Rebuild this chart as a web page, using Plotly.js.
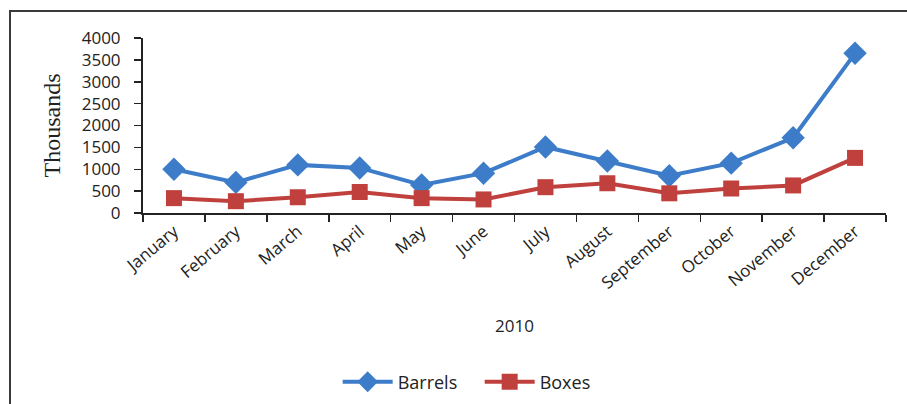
<!DOCTYPE html>
<html>
<head>
<meta charset="utf-8">
<script src="https://cdn.plot.ly/plotly-3.0.1.min.js"></script>
<style>
html,body{margin:0;padding:0;background:#fff;}
#frame{position:absolute;left:9px;top:10px;width:1000px;height:500px;border-top:2px solid #3a3a3a;border-left:2px solid #3a3a3a;}
#chart{position:absolute;left:0;top:0;width:907px;height:404px;}
</style>
</head>
<body>
<div id="frame"></div>
<div id="chart"></div>
<script>
const months = ["January","February","March","April","May","June","July","August","September","October","November","December"];
const barrels = [1000, 700, 1100, 1030, 640, 910, 1510, 1190, 850, 1140, 1720, 3650];
const boxes = [340, 270, 360, 480, 340, 310, 590, 680, 450, 560, 630, 1260];
const yTicks = [0, 500, 1000, 1500, 2000, 2500, 3000, 3500, 4000];

const traces = [
  {x: months, y: barrels, name: "Barrels", type: "scatter", mode: "lines+markers",
   line: {color: "#3d7cc9", width: 4}, marker: {symbol: "diamond", size: 18, color: "#3d7cc9"}},
  {x: months, y: boxes, name: "Boxes", type: "scatter", mode: "lines+markers",
   line: {color: "#c0403d", width: 4}, marker: {symbol: "square", size: 16, color: "#c0403d"}}
];

const layout = {
  width: 907, height: 404,
  margin: {l: 143, r: 21, t: 38, b: 191, autoexpand: false},
  paper_bgcolor: "rgba(0,0,0,0)", plot_bgcolor: "rgba(0,0,0,0)",
  showlegend: true,
  legend: {orientation: "h", x: 0.262, xanchor: "left", y: -0.966, yanchor: "middle",
           itemwidth: 50, entrywidth: 77, entrywidthmode: "pixels",
           font: {family: "Open Sans, sans-serif", size: 18, color: "#222"}},
  xaxis: {
    type: "category", showline: true, linecolor: "#222", linewidth: 2,
    ticks: "outside", ticklen: 7, tickwidth: 1.5, tickcolor: "#222", tickson: "boundaries",
    tickangle: -40, showgrid: false, zeroline: false, automargin: false,
    tickfont: {family: "Open Sans, sans-serif", size: 17, color: "#222"},
    title: {text: "2010", font: {family: "Open Sans, sans-serif", size: 17, color: "#222"}, standoff: 28},
    range: [-0.5, 11.5]
  },
  yaxis: {
    range: [0, 4000], tickvals: yTicks, ticktext: yTicks.map(String),
    showline: true, linecolor: "#222", linewidth: 2, automargin: false,
    ticks: "outside", ticklen: 7, tickwidth: 1.5, tickcolor: "#222",
    ticklabelstandoff: 10,
    showgrid: false, zeroline: false,
    tickfont: {family: "Open Sans, sans-serif", size: 17, color: "#222"},
    title: {text: "Thousands", font: {family: "Liberation Serif, Times New Roman, serif", size: 24, color: "#222"}, standoff: 14}
  }
};

Plotly.newPlot("chart", traces, layout, {displayModeBar: false, staticPlot: true});
</script>
</body>
</html>
